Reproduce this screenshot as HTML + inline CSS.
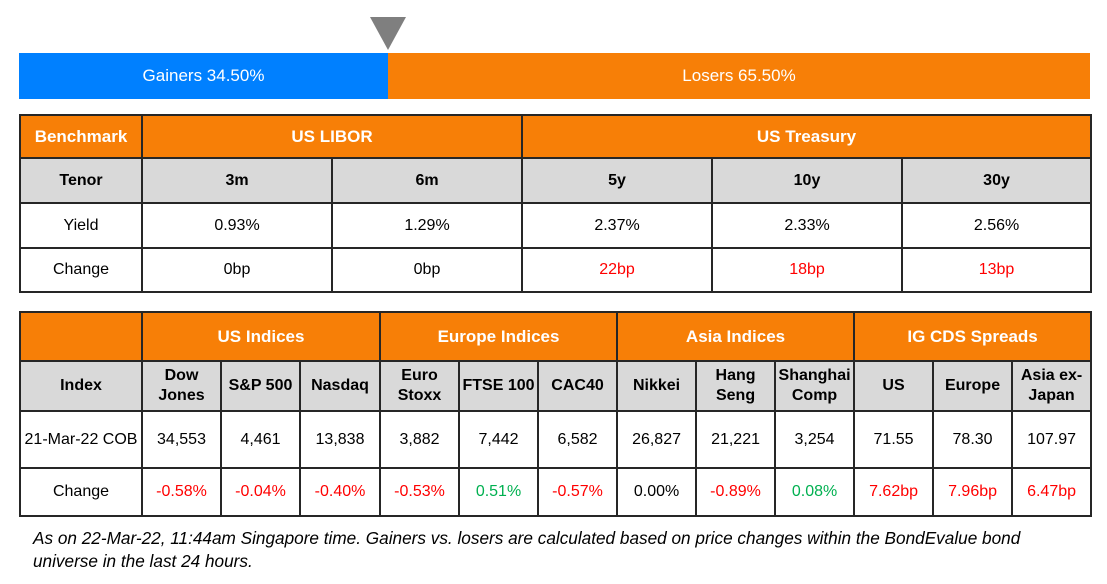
<!DOCTYPE html>
<html><head><meta charset="utf-8"><style>
*{margin:0;padding:0;box-sizing:border-box}
body{width:1107px;height:584px;background:#fff;font-family:"Liberation Sans",sans-serif;position:relative;overflow:hidden}
.abs{position:absolute}
table{position:absolute;border-collapse:collapse;table-layout:fixed}
td{border:2px solid #262626;text-align:center;vertical-align:middle;font-size:16px;color:#000;padding:0;line-height:1.25}
.h td{background:#f77f07;color:#fff;font-weight:bold;font-size:17px}
.s td{background:#d9d9d9;font-weight:bold}
.r{color:#ff0000}.g{color:#00b050}
</style></head><body>
<div class="abs" style="left:370px;top:17px;width:0;height:0;border-left:18px solid transparent;border-right:18px solid transparent;border-top:33px solid #7f7f7f"></div>
<div class="abs" style="left:19px;top:53px;width:369px;height:46px;background:#0080ff;color:#fff;font-size:17px;line-height:46px;text-align:center">Gainers 34.50%</div>
<div class="abs" style="left:388px;top:53px;width:702px;height:46px;background:#f77f07;color:#fff;font-size:17px;line-height:46px;text-align:center">Losers 65.50%</div>

<table style="left:19px;top:114px;width:1071px">
<colgroup><col style="width:122px"><col style="width:190px"><col style="width:190px"><col style="width:190px"><col style="width:190px"><col style="width:189px"></colgroup>
<tr class="h" style="height:43px"><td>Benchmark</td><td colspan="2">US LIBOR</td><td colspan="3">US Treasury</td></tr>
<tr class="s" style="height:45px"><td>Tenor</td><td>3m</td><td>6m</td><td>5y</td><td>10y</td><td>30y</td></tr>
<tr style="height:45px"><td>Yield</td><td>0.93%</td><td>1.29%</td><td>2.37%</td><td>2.33%</td><td>2.56%</td></tr>
<tr style="height:44px"><td>Change</td><td>0bp</td><td>0bp</td><td class="r">22bp</td><td class="r">18bp</td><td class="r">13bp</td></tr>
</table>

<table style="left:19px;top:311px;width:1071px">
<colgroup><col style="width:122px"><col style="width:79px"><col style="width:79px"><col style="width:80px"><col style="width:79px"><col style="width:79px"><col style="width:79px"><col style="width:79px"><col style="width:79px"><col style="width:79px"><col style="width:79px"><col style="width:79px"><col style="width:79px"></colgroup>
<tr class="h" style="height:49px"><td></td><td colspan="3">US Indices</td><td colspan="3">Europe Indices</td><td colspan="3">Asia Indices</td><td colspan="3">IG CDS Spreads</td></tr>
<tr class="s" style="height:50px"><td>Index</td><td>Dow<br>Jones</td><td>S&amp;P 500</td><td>Nasdaq</td><td>Euro<br>Stoxx</td><td>FTSE 100</td><td>CAC40</td><td>Nikkei</td><td>Hang<br>Seng</td><td>Shanghai<br>Comp</td><td>US</td><td>Europe</td><td>Asia ex-<br>Japan</td></tr>
<tr style="height:57px"><td>21-Mar-22 COB</td><td>34,553</td><td>4,461</td><td>13,838</td><td>3,882</td><td>7,442</td><td>6,582</td><td>26,827</td><td>21,221</td><td>3,254</td><td>71.55</td><td>78.30</td><td>107.97</td></tr>
<tr style="height:48px"><td>Change</td><td class="r">-0.58%</td><td class="r">-0.04%</td><td class="r">-0.40%</td><td class="r">-0.53%</td><td class="g">0.51%</td><td class="r">-0.57%</td><td>0.00%</td><td class="r">-0.89%</td><td class="g">0.08%</td><td class="r">7.62bp</td><td class="r">7.96bp</td><td class="r">6.47bp</td></tr>
</table>

<div class="abs" style="left:33px;top:527px;width:1070px;font-size:17.2px;font-style:italic;line-height:23px;color:#000;white-space:nowrap">As on 22-Mar-22, 11:44am Singapore time. Gainers vs. losers are calculated based on price changes within the BondEvalue bond<br>universe in the last 24 hours.</div>
</body></html>
